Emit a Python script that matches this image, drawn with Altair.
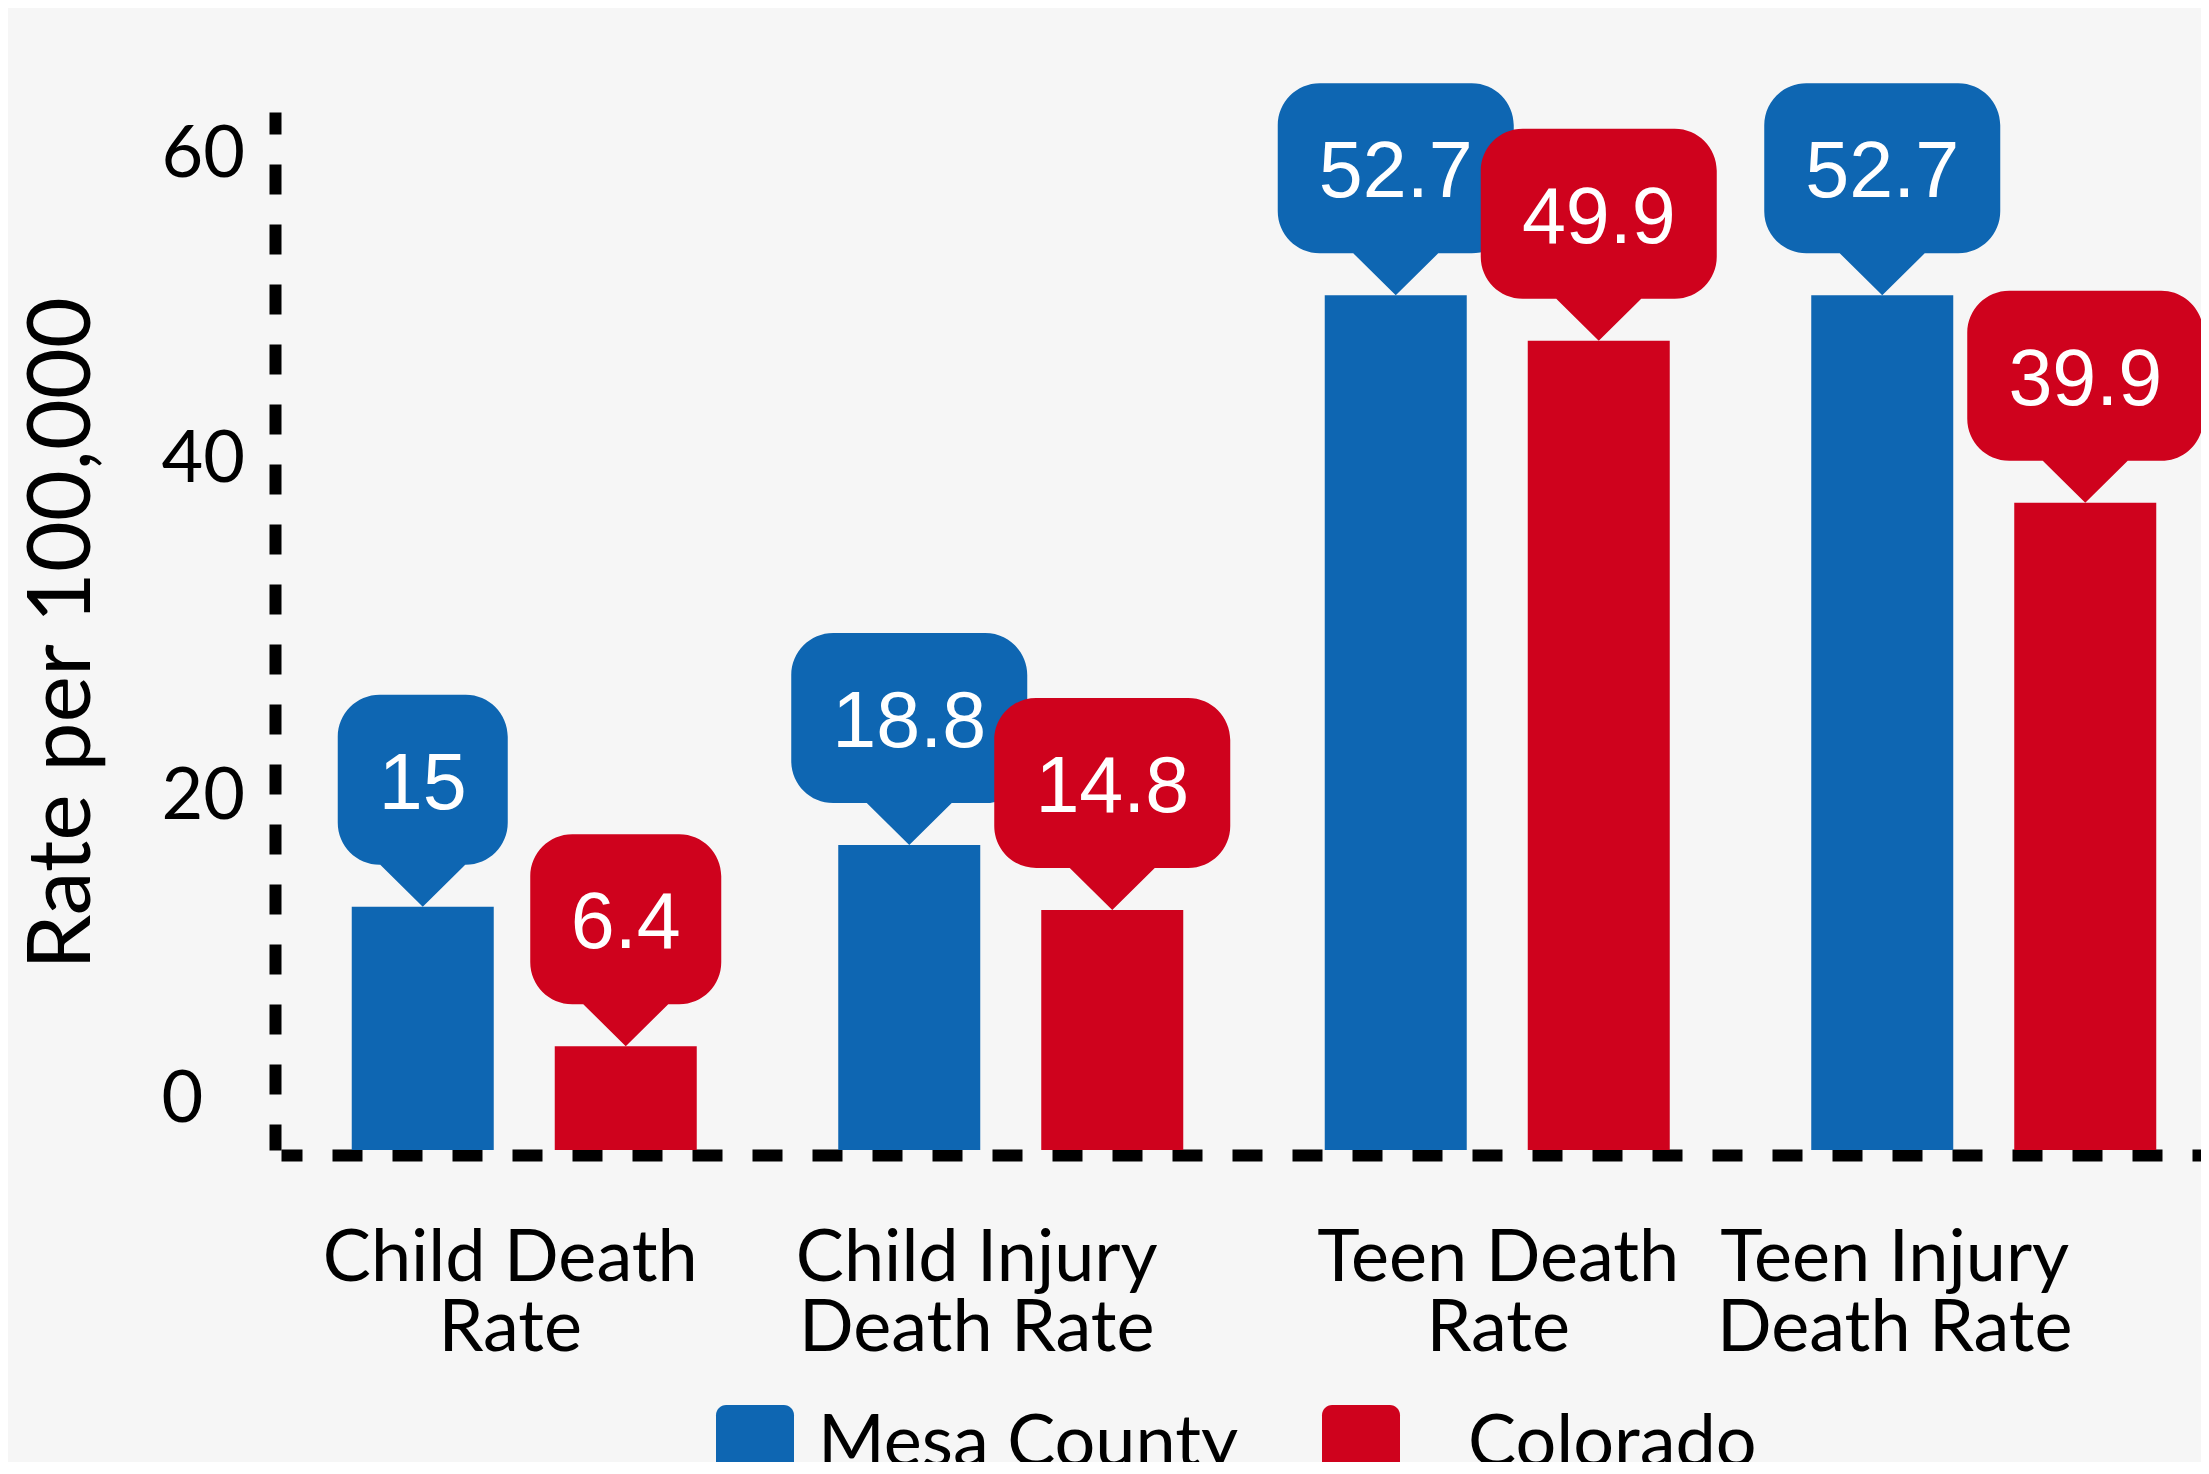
import altair as alt
import pandas as pd

# ---------------- data ----------------
categories = ["Child Death Rate", "Child Injury Death Rate", "Teen Death Rate", "Teen Injury Death Rate"]
category_lines = [["Child Death", "Rate"], ["Child Injury", "Death Rate"],
                  ["Teen Death", "Rate"], ["Teen Injury", "Death Rate"]]
series = ["Mesa County", "Colorado"]
mesa_county = [15, 18.8, 52.7, 52.7]
colorado = [6.4, 14.8, 49.9, 39.9]
y_ticks = [0, 20, 40, 60]

# ---------------- style ----------------
BLUE = "#0E66B2"
RED = "#CF021D"
BG = "#f6f6f6"
FONT = "Lato"
NUM_FONT = "Liberation Sans"

rows = []
for name, vals in zip(series, [mesa_county, colorado]):
    for cat, v in zip(categories, vals):
        rows.append({"category": cat, "series": name, "value": v})
df = pd.DataFrame(rows)

K = 0.5523


def _f(v):
    return f"{v:.3f}"


def corner(cx, cy, sx, sy, ex, ey):
    c1x, c1y = sx + (cx - sx) * K, sy + (cy - sy) * K
    c2x, c2y = ex + (cx - ex) * K, ey + (cy - ey) * K
    return f"C{_f(c1x)},{_f(c1y)} {_f(c2x)},{_f(c2y)} {_f(ex)},{_f(ey)}"


def callout_path(hw, top=2.12, bottom=0.42, r=0.42, thw=0.425):
    L, R, T, B = -hw, hw, -top, -bottom
    return (f"M0,0 L{_f(-thw)},{_f(B)} L{_f(L + r)},{_f(B)} " + corner(L, B, L + r, B, L, B - r)
            + f" L{_f(L)},{_f(T + r)} " + corner(L, T, L, T + r, L + r, T)
            + f" L{_f(R - r)},{_f(T)} " + corner(R, T, R - r, T, R, T + r)
            + f" L{_f(R)},{_f(B - r)} " + corner(R, B, R, B - r, R - r, B)
            + f" L{_f(thw)},{_f(B)} Z")


def rounded_square(r=0.26):
    L, R, T, B = -1, 1, -1, 1
    return (f"M{_f(L + r)},{_f(T)} L{_f(R - r)},{_f(T)} " + corner(R, T, R - r, T, R, T + r)
            + f" L{_f(R)},{_f(B - r)} " + corner(R, B, R, B - r, R - r, B)
            + f" L{_f(L + r)},{_f(B)} " + corner(L, B, L + r, B, L, B - r)
            + f" L{_f(L)},{_f(T + r)} " + corner(L, T, L, T + r, L + r, T) + " Z")


# label lines expression
line_expr = ""
for cat, lines in zip(categories, category_lines):
    arr = "[" + ", ".join("'" + s + "'" for s in lines) + "]"
    line_expr += f"datum.value == '{cat}' ? {arr} : "
line_expr += "datum.label"

x_label_shift = {"Child Death Rate": -14, "Child Injury Death Rate": -34,
                 "Teen Death Rate": 1, "Teen Injury Death Rate": -89}
y_label_shift = {60: -22, 40: -42, 20: -29, 0: -51}

x_axis = alt.Axis(
    title=None, orient="bottom", offset=5,
    domainColor="black", domainWidth=12, domainDash=[30, 30], domainDashOffset=9,
    ticks=False, tickSize=0, grid=False,
    labelAngle=0, labelFont=FONT, labelFontSize=72, labelColor="black",
    labelPadding=68, labelBaseline="top", labelLineHeight=70, labelLimit=2000,
    labelExpr=line_expr,
    labelOffset={"condition": [{"test": f"datum.value == '{k}'", "value": v} for k, v in x_label_shift.items()],
                 "value": 0},
)

y_axis = alt.Axis(
    title="Rate per 100,000", values=y_ticks, offset=6,
    domainColor="black", domainWidth=12, domainDash=[30, 30], domainDashOffset=4,
    ticks=False, tickSize=0, grid=False,
    labelAlign="left", labelBaseline="middle", labelPadding=114,
    labelFont=FONT, labelFontSize=72, labelColor="black",
    labelOffset={"condition": [{"test": f"datum.value == {k}", "value": v} for k, v in y_label_shift.items()],
                 "value": 0},
    titleFont=FONT, titleFontSize=88, titleFontWeight="normal", titleColor="black",
    titleAngle=270, titleX=-186, titleY=521, titleAlign="center", titleBaseline="alphabetic",
)

x_enc = alt.X("category:N", sort=categories,
              scale=alt.Scale(range=[0, 1946], paddingInner=0, paddingOuter=0), axis=x_axis)
xoff_enc = alt.XOffset("series:N", sort=series, scale=alt.Scale(paddingInner=0.3005, paddingOuter=0.3485))
y_enc = alt.Y("value:Q", scale=alt.Scale(domain=[0, 64], nice=False), axis=y_axis)
color_scale = alt.Scale(domain=series, range=[BLUE, RED])

legend = alt.Legend(
    title=None, orient="none", legendX=435, legendY=1293, direction="horizontal",
    symbolType=rounded_square(), symbolSize=6084, symbolStrokeWidth=0, symbolOpacity=1,
    labelFont=FONT, labelFontSize=72, labelColor="black", labelLimit=2000,
    labelOffset={"expr": "datum.label == 'Colorado' ? 68 : 24"},
    columnPadding=83, padding=0,
)

base = alt.Chart(df)

bars = base.mark_bar().encode(
    x=x_enc, xOffset=xoff_enc, y=y_enc,
    color=alt.Color("series:N", sort=series, scale=color_scale, legend=legend),
)

hw_by_len = {2: 0.85, 3: 0.955, 4: 1.18}
callouts = []
for n, hw in hw_by_len.items():
    callouts.append(
        base.transform_calculate(label="'' + datum.value")
        .transform_filter(f"length(datum.label) == {n}")
        .mark_point(shape=callout_path(hw), size=40000, filled=True, opacity=1, strokeWidth=0)
        .encode(x=x_enc, xOffset=xoff_enc, y=y_enc,
                color=alt.Color("series:N", sort=series, scale=color_scale, legend=None))
    )

texts = base.transform_calculate(label="'' + datum.value").mark_text(
    dy=-122, fontSize=79, font=NUM_FONT, color="white", align="center", baseline="middle"
).encode(x=x_enc, xOffset=xoff_enc, y=y_enc, text="label:N")

chart = alt.layer(bars, *callouts, texts).properties(
    width=1920, height=1038,
    autosize=alt.AutoSizeParams(type="none"),
    padding={"left": 273, "top": 104, "right": 0, "bottom": 312},
    background=BG,
).configure_view(strokeWidth=0)

chart.save("out.html", embed_options={"renderer": "svg", "actions": False})
